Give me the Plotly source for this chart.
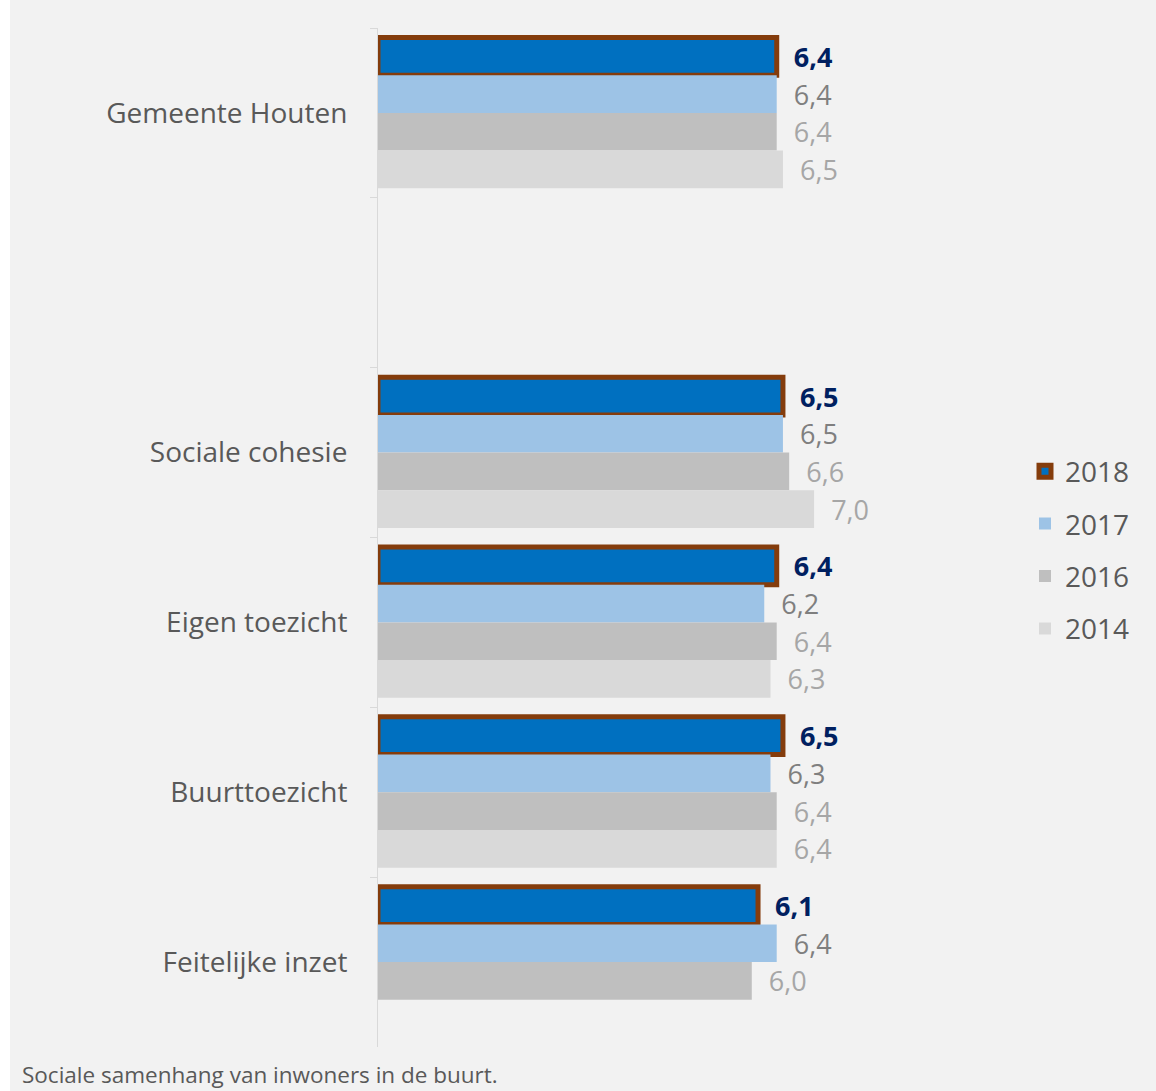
import plotly.graph_objects as go

# Categories (a blank spacer row separates the municipality total from the themes)
categories = ["Gemeente Houten", " ", "Sociale cohesie", "Eigen toezicht", "Buurttoezicht", "Feitelijke inzet"]

# Scores per year
scores_2018 = [6.4, None, 6.5, 6.4, 6.5, 6.1]
scores_2017 = [6.4, None, 6.5, 6.2, 6.3, 6.4]
scores_2016 = [6.4, None, 6.6, 6.4, 6.4, 6.0]
scores_2014 = [6.5, None, 7.0, 6.3, 6.4, None]

caption = "Sociale samenhang van inwoners in de buurt."

W, H = 1156, 1091
ML, MR, MT, MB = 378, 155, 28, 44
PW, PH = W - ML - MR, H - MT - MB

FONT = "Open Sans, Noto Sans, sans-serif"
GAP = "\u00a0\u00a0"

series = [
    ("2018", scores_2018, "#0070C0", dict(color="#843C0C", width=5), "#002060", "bold"),
    ("2017", scores_2017, "#9DC3E6", dict(width=0), "#7F7F7F", "normal"),
    ("2016", scores_2016, "#BFBFBF", dict(width=0), "#A6A6A6", "normal"),
    ("2014", scores_2014, "#D9D9D9", dict(width=0), "#A6A6A6", "normal"),
]

fig = go.Figure()
for name, vals, fill, line, tcol, weight in series:
    fig.add_trace(go.Bar(
        name=name,
        y=categories,
        x=vals,
        orientation="h",
        marker=dict(color=fill, line=line),
        texttemplate=GAP + "%{x:.1f}",
        textposition="outside",
        constraintext="none",
        cliponaxis=False,
        textfont=dict(family=FONT, size=27, color=tcol, weight=weight),
        legendgroup=name,
        hoverinfo="skip",
    ))

# white strip on the far left edge of the page
fig.add_shape(
    type="rect", xref="paper", yref="paper", layer="below",
    x0=(0 - ML) / PW, x1=(10 - ML) / PW,
    y0=-MB / PH - 0.01, y1=(H - MB) / PH + 0.01,
    fillcolor="white", line=dict(width=0),
)

fig.add_annotation(
    text=caption, xref="paper", yref="paper",
    x=(20 - ML) / PW, y=(H - MB - 1074) / PH,
    xanchor="left", yanchor="middle", showarrow=False,
    font=dict(family=FONT, size=22.5, color="#595959"),
)

fig.update_layout(
    width=W, height=H,
    margin=dict(l=ML, r=MR, t=MT, b=MB, pad=0),
    paper_bgcolor="#F2F2F2",
    plot_bgcolor="#F2F2F2",
    separators=",.",
    barmode="group",
    bargap=0.112,
    bargroupgap=0,
    showlegend=True,
    legend=dict(
        x=(1025 - ML) / PW, xanchor="left",
        y=(H - MB - 550) / PH, yanchor="middle",
        font=dict(family=FONT, size=28, color="#595959"),
        bgcolor="rgba(0,0,0,0)",
        tracegroupgap=13,
        traceorder="grouped",
    ),
    xaxis=dict(
        range=[0, 10], visible=False, fixedrange=True,
    ),
    yaxis=dict(
        categoryorder="array", categoryarray=categories,
        autorange="reversed",
        showline=True, linecolor="#D9D9D9", linewidth=1,
        ticks="outside", tickson="boundaries", ticklen=7, tickcolor="#D9D9D9",
        showgrid=False, zeroline=False,
        tickfont=dict(family=FONT, size=28, color="#595959"),
        ticklabelstandoff=24,
    ),
    font=dict(family=FONT),
)

fig.write_html("out.html")
